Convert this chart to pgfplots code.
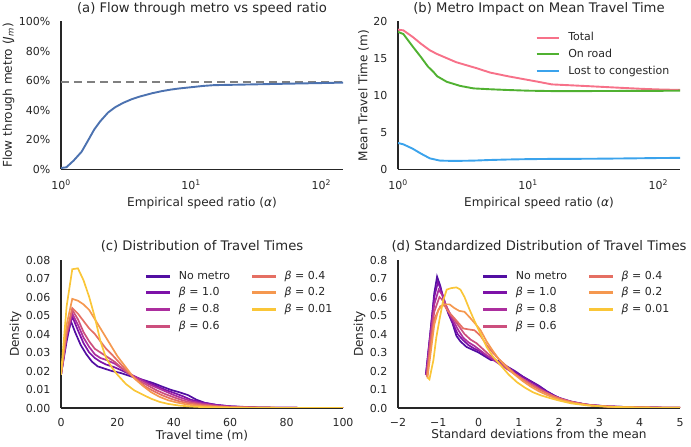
\documentclass[border=0pt]{standalone}
\usepackage{fontspec}
\setmainfont{DejaVu Sans}
\usepackage{pgfplots}
\pgfplotsset{compat=1.18}
\definecolor{spine}{HTML}{262626}
\definecolor{sbblue}{HTML}{4C72B0}
\definecolor{hpink}{HTML}{F77189}
\definecolor{hgreen}{HTML}{50B131}
\definecolor{hblue}{HTML}{3BA3EC}
\definecolor{plasmaA}{HTML}{520EA2}
\definecolor{plasmaB}{HTML}{7D12A8}
\definecolor{plasmaC}{HTML}{AC2E9E}
\definecolor{plasmaD}{HTML}{CC4F7E}
\definecolor{plasmaE}{HTML}{E56F63}
\definecolor{plasmaF}{HTML}{F5984F}
\definecolor{plasmaG}{HTML}{FAC638}
\pgfplotsset{
  sb/.style={
    scale only axis, width=282pt, height=148pt, anchor=south west,
    axis lines=left,
    axis line style={-, draw=spine, line width=1.4pt},
    every outer x axis line/.append style={-},
    every outer y axis line/.append style={-},
    tick style={draw=none}, major tick length=0pt, minor tick length=0pt,
    enlargelimits=false, scaled ticks=false,
    /pgf/number format/assume math mode=true,
    tick label style={font=\fontsize{11}{13}\selectfont, text=spine, inner sep=0pt},
    yticklabel style={anchor=east, xshift=-10.45pt},
    xticklabel style={anchor=north, yshift=-10.45pt},
    label style={font=\fontsize{12.1}{14}\selectfont, text=spine, inner sep=0pt},
    title style={font=\fontsize{13.2}{15}\selectfont, text=spine, at={(0.5,1)}, anchor=base, yshift=3.2pt, inner sep=0pt},
    legend style={draw=none, fill=none, font=\fontsize{11}{13}\selectfont, text=spine, inner sep=0pt, row sep=5.7pt,
      at={(axis description cs:1,1)}, anchor=north east, xshift=-10.5pt, yshift=-10.5pt,
      nodes={inner sep=0pt, text height=8.5pt, text depth=2.5pt},
      /tikz/every odd column/.append style={column sep=8.8pt},
      /tikz/every even column/.append style={column sep=22pt}},
    legend cell align=left,
    legend image code/.code={\draw[#1] (0pt,0pt) -- (22pt,0pt);},
  },
  xlab/.style={xlabel style={at={([yshift=#1]axis description cs:0.5,0)}, anchor=base}},
  ylab/.style={ylabel style={at={([xshift=#1]axis description cs:0,0.5)}, anchor=south}},
  dens/.style={color=#1, line width=1.7pt,
    legend image code/.code={\fill[#1] (0pt,-0.7pt) rectangle (22pt,0.7pt);}},
}
\begin{document}
\begin{tikzpicture}
\path[use as bounding box] (0,0) rectangle (691pt,447pt);
% (a)
\begin{axis}[sb, at={(61pt,277.5pt)},
  xmode=log, xmin=1, xmax=147, ymin=0, ymax=100,
  xtick={1,10,100}, xticklabels={10\textsuperscript{0},10\textsuperscript{1},10\textsuperscript{2}},
  ytick={0,20,40,60,80,100}, yticklabels={0\%,20\%,40\%,60\%,80\%,100\%},
  title={(a) Flow through metro vs speed ratio},
  xlabel={Empirical speed ratio ({\itshape α})}, xlab=-37.5pt,
  ylabel={Flow through metro ({\itshape J}\textsubscript{\itshape m})}, ylab=-46.35pt]
\addplot[color=gray, line width=1.4pt, dash pattern=on 8pt off 5pt] coordinates {(1,59) (147,59)};
\addplot[sbblue, line width=1.9pt] coordinates {
(1.0,1.0) (1.1,1.5) (1.25,6) (1.44,12) (1.6,19) (1.8,27) (2.0,32.5) (2.3,38.5) (2.6,42)
(3.0,45) (3.5,47.5) (4.0,49.2) (5.0,51.5) (6.0,53) (7.0,54) (8.0,54.7) (10,55.6)
(12.5,56.5) (15,57) (20,57.2) (30,57.5) (50,57.9) (75,58.2) (100,58.4) (147,58.7)};
\end{axis}
% (b)
\begin{axis}[sb, at={(398pt,277.5pt)},
  xmode=log, xmin=1, xmax=147, ymin=0, ymax=20,
  xtick={1,10,100}, xticklabels={10\textsuperscript{0},10\textsuperscript{1},10\textsuperscript{2}},
  ytick={0,5,10,15,20}, yticklabels={0,5,10,15,20},
  title={(b) Metro Impact on Mean Travel Time},
  xlabel={Empirical speed ratio ({\itshape α})}, xlab=-37.5pt,
  ylabel={Mean Travel Time (m)}, ylab=-28.8pt]
\addplot[hpink, line width=1.9pt] coordinates {
(1.0,18.9) (1.1,18.8) (1.3,17.9) (1.5,17.0) (1.76,16.1) (2.0,15.6) (2.8,14.5) (4,13.7)
(5.1,13.1) (7,12.6) (10,12.1) (12.4,11.8) (15.2,11.5) (20,11.4) (30,11.25) (50,11.05)
(75,10.9) (100,10.82) (147,10.75)};
\addlegendentry{Total}
\addplot[hgreen, line width=1.9pt] coordinates {
(1.0,18.6) (1.1,18.3) (1.3,16.6) (1.5,15.2) (1.7,13.9) (1.87,13.2) (2.0,12.6) (2.37,11.85)
(3.0,11.3) (3.8,10.96) (5,10.85) (6.8,10.75) (10,10.65) (15,10.6) (30,10.6) (60,10.62)
(100,10.63) (147,10.65)};
\addlegendentry{On road}
\addplot[hblue, line width=1.9pt] coordinates {
(1.0,3.58) (1.1,3.4) (1.3,2.8) (1.5,2.15) (1.76,1.5) (2.1,1.2) (2.5,1.17) (3,1.17)
(3.8,1.2) (5,1.28) (7,1.35) (10,1.4) (15,1.43) (30,1.45) (60,1.5) (100,1.55) (147,1.57)};
\addlegendentry{Lost to congestion}
\end{axis}
% (c)
\begin{axis}[sb, at={(61pt,39pt)},
  xmin=0, xmax=100, ymin=0, ymax=0.08,
  xtick={0,20,40,60,80,100}, xticklabels={0,20,40,60,80,100},
  ytick={0,0.01,0.02,0.03,0.04,0.05,0.06,0.07,0.08},
  yticklabels={0.00,0.01,0.02,0.03,0.04,0.05,0.06,0.07,0.08},
  legend columns=4, transpose legend,
  title={(c) Distribution of Travel Times},
  xlabel={Travel time (m)}, xlab=-31pt,
  ylabel={Density}, ylab=-39.35pt]
\addplot[dens=plasmaA] coordinates {
(0,0.018) (2,0.036) (3.5,0.047) (5,0.041) (7,0.034) (9,0.029) (11,0.025) (13,0.0225)
(15,0.0215) (18,0.020) (21,0.019) (24,0.0175) (27,0.016) (30,0.0148) (33,0.0133)
(36,0.0115) (39,0.0098) (42,0.0085) (45,0.007) (48,0.0045) (51,0.0028) (55,0.0017)
(60,0.0009) (65,0.0005) (70,0.0003) (80,0.0001) (90,0.00005) (100,0)};
\addlegendentry{No metro}
\addplot[dens=plasmaB] coordinates {
(0,0.018) (2,0.038) (4,0.0495) (6,0.042) (8,0.035) (10,0.030) (12,0.027) (14,0.025)
(16,0.0235) (19,0.022) (22,0.020) (25,0.0178) (28,0.0158) (31,0.0138) (34,0.0118)
(37,0.0098) (40,0.0082) (43,0.0065) (46,0.0045) (50,0.003) (55,0.0017) (60,0.0009)
(70,0.0003) (80,0.0001) (100,0)};
\addlegendentry{{\itshape β} = 1.0}
\addplot[dens=plasmaC] coordinates {
(0,0.018) (2,0.039) (4,0.051) (6,0.045) (8,0.038) (10,0.033) (12,0.029) (14,0.027)
(16,0.026) (19,0.024) (22,0.021) (25,0.018) (28,0.0155) (31,0.013) (34,0.011)
(37,0.009) (40,0.007) (43,0.0053) (46,0.0038) (50,0.0025) (55,0.0014) (60,0.0008)
(70,0.0002) (80,0.0001) (100,0)};
\addlegendentry{{\itshape β} = 0.8}
\addplot[dens=plasmaD] coordinates {
(0,0.018) (2,0.040) (4,0.053) (6,0.048) (8,0.041) (10,0.036) (12,0.032) (14,0.030)
(16,0.028) (19,0.025) (22,0.021) (25,0.0175) (28,0.0145) (31,0.012) (34,0.0095)
(37,0.0075) (40,0.0058) (43,0.0042) (46,0.003) (50,0.002) (55,0.0011) (60,0.0006)
(70,0.0002) (80,0.0001) (100,0)};
\addlegendentry{{\itshape β} = 0.6}
\addplot[dens=plasmaE] coordinates {
(0,0.018) (2,0.041) (4,0.054) (6,0.051) (8,0.047) (10,0.043) (12,0.040) (14,0.036)
(16,0.032) (18,0.029) (21,0.024) (24,0.019) (27,0.015) (30,0.0115) (33,0.009)
(36,0.0068) (39,0.005) (42,0.0036) (45,0.0026) (50,0.0015) (55,0.0008) (60,0.0004)
(70,0.0001) (100,0)};
\addlegendentry{{\itshape β} = 0.4}
\addplot[dens=plasmaF] coordinates {
(0,0.018) (2,0.045) (4,0.059) (6,0.058) (8,0.056) (10,0.053) (12,0.048) (14,0.043)
(16,0.038) (18,0.033) (20,0.028) (23,0.022) (26,0.016) (29,0.012) (32,0.0085)
(35,0.006) (38,0.0042) (41,0.003) (45,0.0018) (50,0.001) (60,0.0003) (70,0.0001) (100,0)};
\addlegendentry{{\itshape β} = 0.2}
\addplot[dens=plasmaG] coordinates {
(0,0.018) (2,0.055) (4,0.075) (6,0.0755) (8,0.069) (10,0.060) (12,0.049) (14,0.036)
(16,0.027) (18,0.022) (20,0.018) (23,0.013) (26,0.0095) (29,0.0072) (32,0.005)
(35,0.0033) (38,0.0022) (42,0.0013) (46,0.0008) (50,0.0005) (60,0.0002) (70,0.0001) (100,0)};
\addlegendentry{{\itshape β} = 0.01}
\end{axis}
% (d)
\begin{axis}[sb, at={(398pt,39pt)},
  xmin=-2, xmax=5, ymin=0, ymax=0.8,
  xtick={-2,-1,0,1,2,3,4,5}, xticklabels={−2,−1,0,1,2,3,4,5},
  ytick={0,0.1,0.2,0.3,0.4,0.5,0.6,0.7,0.8},
  yticklabels={0.0,0.1,0.2,0.3,0.4,0.5,0.6,0.7,0.8},
  legend columns=4, transpose legend,
  title={(d) Standardized Distribution of Travel Times},
  xlabel={Standard deviations from the mean}, xlab=-31pt,
  ylabel={Density}, ylab=-32.35pt]
\addplot[dens=plasmaA] coordinates {
(-1.31,0.18) (-1.2,0.40) (-1.1,0.62) (-1.03,0.71) (-0.95,0.66) (-0.85,0.57) (-0.75,0.51)
(-0.65,0.46) (-0.55,0.39) (-0.45,0.36) (-0.3,0.33) (-0.15,0.315) (0,0.30) (0.15,0.28)
(0.3,0.26) (0.5,0.255) (0.7,0.225) (0.9,0.20) (1.1,0.17) (1.3,0.145) (1.5,0.12)
(1.7,0.09) (1.9,0.065) (2.1,0.045) (2.4,0.028) (2.8,0.015) (3.2,0.009) (3.6,0.006)
(4,0.004) (4.5,0.002) (5,0.001)};
\addlegendentry{No metro}
\addplot[dens=plasmaB] coordinates {
(-1.3,0.18) (-1.2,0.40) (-1.1,0.60) (-1.01,0.68) (-0.92,0.63) (-0.82,0.56) (-0.72,0.50)
(-0.62,0.45) (-0.52,0.40) (-0.4,0.37) (-0.25,0.34) (-0.1,0.32) (0.05,0.305) (0.2,0.28)
(0.4,0.26) (0.6,0.235) (0.8,0.21) (1.0,0.18) (1.2,0.155) (1.4,0.13) (1.6,0.10)
(1.8,0.075) (2.0,0.055) (2.3,0.035) (2.7,0.018) (3.2,0.009) (3.7,0.005) (4.2,0.003) (5,0.001)};
\addlegendentry{{\itshape β} = 1.0}
\addplot[dens=plasmaC] coordinates {
(-1.3,0.18) (-1.2,0.38) (-1.1,0.56) (-0.99,0.64) (-0.9,0.61) (-0.8,0.55) (-0.7,0.50)
(-0.6,0.46) (-0.5,0.42) (-0.38,0.38) (-0.25,0.355) (-0.1,0.335) (0.05,0.31) (0.2,0.285)
(0.4,0.255) (0.6,0.225) (0.8,0.2) (1.0,0.17) (1.2,0.145) (1.4,0.12) (1.6,0.095)
(1.8,0.07) (2.0,0.052) (2.3,0.033) (2.7,0.017) (3.2,0.008) (3.7,0.005) (4.2,0.003) (5,0.001)};
\addlegendentry{{\itshape β} = 0.8}
\addplot[dens=plasmaD] coordinates {
(-1.29,0.17) (-1.2,0.36) (-1.1,0.52) (-0.97,0.60) (-0.88,0.58) (-0.78,0.54) (-0.68,0.50)
(-0.58,0.47) (-0.48,0.44) (-0.35,0.40) (-0.2,0.37) (-0.05,0.35) (0.1,0.32) (0.25,0.29)
(0.45,0.255) (0.65,0.22) (0.85,0.19) (1.05,0.16) (1.25,0.135) (1.45,0.11) (1.65,0.085)
(1.85,0.065) (2.1,0.045) (2.4,0.028) (2.8,0.015) (3.3,0.007) (3.8,0.004) (4.3,0.002) (5,0.001)};
\addlegendentry{{\itshape β} = 0.6}
\addplot[dens=plasmaE] coordinates {
(-1.28,0.17) (-1.2,0.33) (-1.1,0.48) (-0.95,0.55) (-0.85,0.555) (-0.75,0.52) (-0.62,0.49)
(-0.5,0.46) (-0.38,0.43) (-0.25,0.425) (-0.1,0.42) (0.05,0.39) (0.2,0.34) (0.35,0.30)
(0.5,0.265) (0.7,0.225) (0.9,0.185) (1.1,0.155) (1.3,0.125) (1.5,0.10) (1.7,0.08)
(1.9,0.06) (2.1,0.045) (2.4,0.028) (2.8,0.014) (3.3,0.007) (3.8,0.004) (4.3,0.002) (5,0.001)};
\addlegendentry{{\itshape β} = 0.4}
\addplot[dens=plasmaF] coordinates {
(-1.27,0.16) (-1.2,0.28) (-1.1,0.45) (-1.0,0.53) (-0.88,0.56) (-0.72,0.56) (-0.6,0.54)
(-0.48,0.525) (-0.35,0.52) (-0.22,0.49) (-0.1,0.46) (0.05,0.42) (0.2,0.36) (0.35,0.31)
(0.5,0.265) (0.7,0.22) (0.9,0.18) (1.1,0.145) (1.3,0.115) (1.5,0.09) (1.7,0.07)
(1.9,0.053) (2.1,0.04) (2.4,0.025) (2.8,0.013) (3.3,0.006) (3.8,0.003) (4.3,0.002) (5,0.001)};
\addlegendentry{{\itshape β} = 0.2}
\addplot[dens=plasmaG] coordinates {
(-1.27,0.165) (-1.22,0.155) (-1.12,0.26) (-1.05,0.38) (-0.96,0.49) (-0.88,0.58) (-0.79,0.64)
(-0.68,0.648) (-0.55,0.652) (-0.45,0.64) (-0.35,0.60) (-0.22,0.53) (-0.1,0.47) (0.05,0.40)
(0.2,0.33) (0.35,0.28) (0.55,0.23) (0.75,0.18) (0.95,0.14) (1.15,0.11) (1.35,0.085)
(1.55,0.068) (1.75,0.055) (2.0,0.04) (2.3,0.025) (2.7,0.014) (3.2,0.007) (3.7,0.004)
(4.3,0.002) (5,0.001)};
\addlegendentry{{\itshape β} = 0.01}
\end{axis}
\end{tikzpicture}
\end{document}
